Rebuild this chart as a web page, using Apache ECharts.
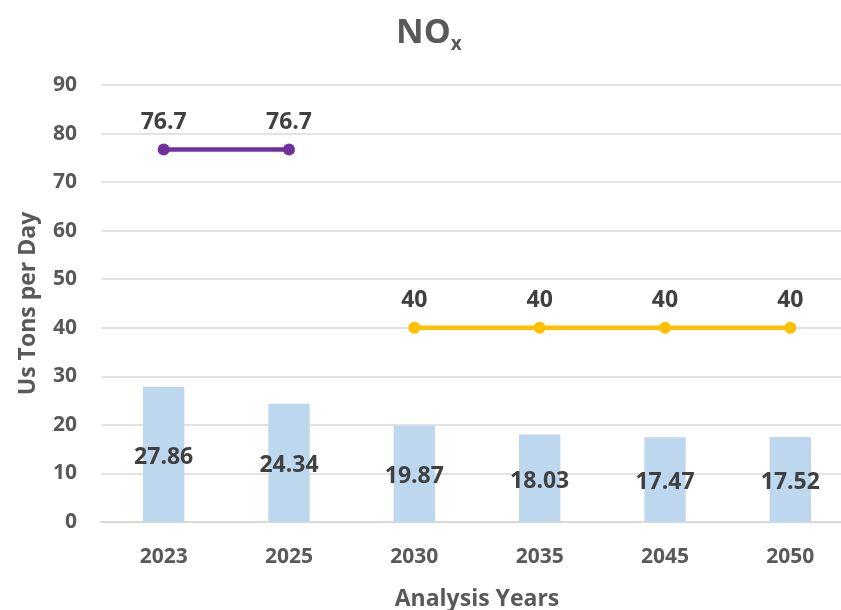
<!DOCTYPE html>
<html><head><meta charset="utf-8">
<script src="https://cdn.jsdelivr.net/npm/echarts@6/dist/echarts.min.js"></script>
<style>html,body{margin:0;padding:0;background:#fff;overflow:hidden}#c{width:841px;height:610px}</style>
</head><body><div id="c"></div>
<script>
const categories = ['2023','2025','2030','2035','2045','2050'];
const emissions = [27.86, 24.34, 19.87, 18.03, 17.47, 17.52];
const budgetA = [76.7, 76.7, null, null, null, null];
const budgetB = [null, null, 40, 40, 40, 40];
const yTicks = {min: 0, max: 90, interval: 10};

const FONT = '"Open Sans", "Liberation Sans", sans-serif';
const chart = echarts.init(document.getElementById('c'));
chart.setOption({
  animation: false,
  title: {
    text: '{a|NO}{b|x}',
    left: 391, top: 8,
    textStyle: {
      rich: {
        a: {fontFamily: FONT, fontWeight: 'bold', fontSize: 34, color: '#595959'},
        b: {fontFamily: FONT, fontWeight: 'bold', fontSize: 19, color: '#595959', padding: [22, 0, 0, 0]}
      }
    }
  },
  grid: {left: 101, width: 752, top: 85, height: 437, containLabel: false, outerBoundsMode: 'none'},
  xAxis: {
    type: 'category', data: categories,
    name: 'Analysis Years', nameLocation: 'middle', nameGap: 66,
    nameTextStyle: {fontFamily: FONT, fontWeight: 'bold', fontSize: 23, color: '#595959'},
    axisLine: {lineStyle: {color: '#d9d9d9', width: 2}},
    axisTick: {show: false},
    axisLabel: {fontFamily: FONT, fontWeight: 'bold', fontSize: 21, color: '#595959', margin: 25}
  },
  yAxis: {
    type: 'value', min: yTicks.min, max: yTicks.max, interval: yTicks.interval,
    name: 'Us Tons per Day', nameLocation: 'middle', nameGap: 61,
    nameTextStyle: {fontFamily: FONT, fontWeight: 'bold', fontSize: 23, color: '#595959'},
    axisLine: {show: false}, axisTick: {show: false},
    axisLabel: {fontFamily: FONT, fontWeight: 'bold', fontSize: 21, color: '#595959', margin: 24},
    splitLine: {lineStyle: {color: '#d9d9d9', width: 1.5}}
  },
  series: [
    {
      type: 'bar', data: emissions, barWidth: '33%',
      itemStyle: {color: '#BDD7EE'},
      label: {show: true, position: 'inside', offset: [0, 3], fontFamily: FONT, fontWeight: 'bold', fontSize: 23, color: '#404040',
        formatter: p => p.value.toFixed(2)}
    },
    {
      type: 'line', data: budgetA, symbol: 'circle', symbolSize: 12,
      lineStyle: {color: '#7030A0', width: 4.5}, itemStyle: {color: '#7030A0'},
      label: {show: true, position: 'top', distance: 10, fontFamily: FONT, fontWeight: 'bold', fontSize: 23, color: '#404040'}
    },
    {
      type: 'line', data: budgetB, symbol: 'circle', symbolSize: 12,
      lineStyle: {color: '#FFC000', width: 4.5}, itemStyle: {color: '#FFC000'},
      label: {show: true, position: 'top', distance: 10, fontFamily: FONT, fontWeight: 'bold', fontSize: 23, color: '#404040'}
    }
  ]
});
</script></body></html>
